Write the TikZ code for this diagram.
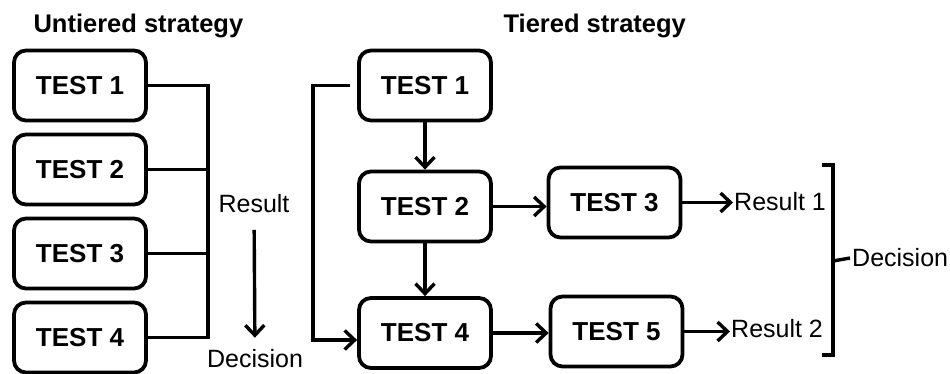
\documentclass[tikz,border=0pt]{standalone}
\usepackage{fontspec}
\setmainfont{Liberation Sans}
\usepackage{tikz}
\usetikzlibrary{arrows.meta}
\tikzset{testbox/.style = {shape = rectangle, draw, rounded corners = 12pt, line width = 3.8pt, minimum width = 132pt, minimum height = 70pt, font = \bfseries\fontsize{26}{30}\selectfont}}
\tikzset{heading/.style = {font = \bfseries\fontsize{25.5}{30}\selectfont}}
\tikzset{outtext/.style = {font = \fontsize{25}{29}\selectfont}}
\tikzset{link/.style = {-, line width = 3.4pt}}
\tikzset{arrow/.style = {link, -{Straight Barb[length = 10pt, width = 19pt]}}}

\begin{document}
\begin{tikzpicture}[x = 1pt, y = -1pt]
				\useasboundingbox (0, 0) rectangle (950, 373);

				% untiered strategy
				\node[heading, anchor = base west] (uhead) at (30, 32) {Untiered strategy};
				\node[testbox] (ut1) at (80, 85.5) {TEST 1};
				\node[testbox] (ut2) at (80, 169.5) {TEST 2};
				\node[testbox] (ut3) at (80, 253.5) {TEST 3};
				\node[testbox] (ut4) at (80, 337.5) {TEST 4};
				\node[outtext, anchor = base] (ures) at (254, 212) {Result};
				\node[outtext, anchor = base, inner sep = 0pt] (udec) at (255, 367) {Decision};

				\coordinate (bus) at (208, 0);
				\draw[link] (ut1.east) -- (ut1.east -| bus) -- (ut4.east -| bus) -- (ut4.east);
				\draw[link] (ut2.east) -- (ut2.east -| bus);
				\draw[link] (ut3.east) -- (ut3.east -| bus);
				\draw[arrow, shorten <= 14pt, shorten >= 11pt] (ures) -- (udec);

				% tiered strategy
				\node[heading, anchor = base west] (thead) at (500, 32) {Tiered strategy};
				\node[testbox] (tt1) at (425, 85.5) {TEST 1};
				\node[testbox] (tt2) at (425, 206.5) {TEST 2};
				\node[testbox] (tt3) at (614.5, 202.5) {TEST 3};
				\node[testbox] (tt4) at (425, 333) {TEST 4};
				\node[testbox] (tt5) at (616.5, 331.5) {TEST 5};
				\node[outtext, anchor = base west, inner sep = 1pt] (res1) at (733, 210) {Result 1};
				\node[outtext, anchor = base west, inner sep = 1pt] (res2) at (730, 337) {Result 2};
				\node[outtext, anchor = west, inner sep = 2pt] (tdec) at (850, 258) {Decision};

				\draw[arrow] (tt1) -- (tt2);
				\draw[arrow] (tt2) -- (tt4);
				\draw[arrow] (tt2.east) -- (tt2.east -| tt3.west);
				\draw[arrow] (tt4.east) -- (tt4.east -| tt5.west);
				\draw[arrow] (tt3.east) -- (tt3.east -| res1.west);
				\draw[arrow] (tt5.east) -- (tt5.east -| res2.west);
				\draw[arrow, shorten <= 7pt] (tt1.west) -- ++(-44, 0) |- ([yshift = -7pt]tt4.west);

				% bracket round both results
				\draw[link] (822, 165) -- (833, 165) -- (833, 355) -- (822, 355);
				\draw[link] (833, 261) -- (tdec.west);
			\end{tikzpicture}
\end{document}
